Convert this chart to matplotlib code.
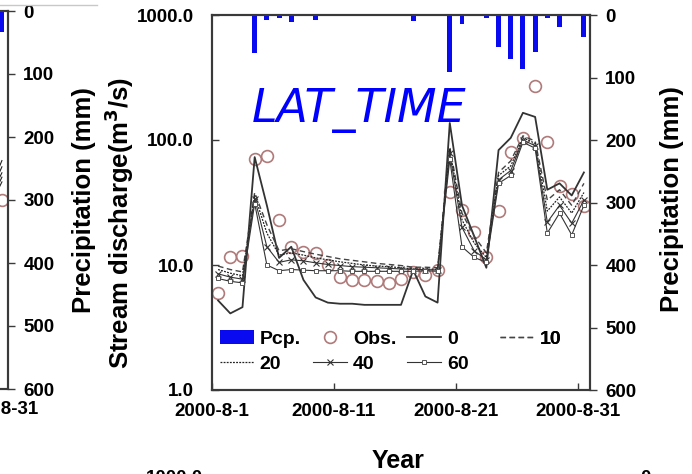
import matplotlib
matplotlib.use('Agg')
import matplotlib.pyplot as plt
import matplotlib.dates as mdates
from matplotlib.lines import Line2D
from matplotlib.ticker import FixedLocator, FuncFormatter
import pandas as pd

plt.rcParams['font.family'] = ['Liberation Sans', 'DejaVu Sans']
plt.rcParams['font.weight'] = 'bold'

# daily values, August 2000
days = (pd.date_range('2000-08-01', '2000-08-31', freq='D') + pd.Timedelta(hours=12)).to_pydatetime()
pcp = [0, 0, 1, 61, 8, 5, 11, 1, 8, 0, 0, 0, 0, 0, 0, 1, 10, 0, 0, 91, 14, 0, 5, 51, 70, 86, 59, 5, 19, 0, 35]
obs = [6.0, 11.6, 11.8, 70.5, 74.5, 22.9, 13.9, 12.7, 12.5, 10.0, 8.0, 7.6, 7.6, 7.4, 7.2, 7.7,
       8.8, 8.3, 9.1, 38.4, 27.5, 18.4, 11.6, 27.0, 80, 104, 270, 96, 43, 37, 29.6]
sim_0 = [5.2, 4.1, 4.6, 73, 30, 11.4, 14, 7.6, 5.5, 5.0, 4.9, 4.9, 4.8, 4.8, 4.8, 4.8,
         9.1, 5.6, 5.0, 137, 30, 17, 9.5, 83, 104, 165, 153, 40, 45, 36, 55]
sim_10 = [9.8, 9.2, 8.8, 38, 21, 13, 13.5, 12.8, 12.2, 11.7, 11.2, 10.9, 10.6, 10.3, 10.1, 9.9,
          9.6, 9.6, 9.5, 88, 26, 17, 12.5, 55, 68, 108, 98, 33, 40, 30, 45]
sim_20 = [9.2, 8.6, 8.2, 36, 18, 12, 12.5, 12.0, 11.4, 11.0, 10.6, 10.3, 10.0, 9.8, 9.7, 9.5,
          9.3, 9.3, 9.2, 84, 23, 15, 11.5, 52, 62, 104, 94, 27, 35, 26, 38]
sim_40 = [8.5, 8.0, 7.7, 34, 14, 10.5, 11, 10.8, 10.4, 10.1, 9.9, 9.7, 9.6, 9.5, 9.4, 9.3,
          9.2, 9.2, 9.1, 78, 20, 13, 11, 48, 57, 100, 90, 22, 30, 21.6, 33]
sim_60 = [7.8, 7.4, 7.2, 31, 10, 9, 9.2, 9.1, 9.0, 9.0, 9.0, 8.9, 8.9, 8.9, 8.9, 8.9,
          8.9, 9.0, 8.9, 70, 14, 11.5, 10.5, 45, 52, 96, 86, 18, 26, 17.4, 30]

# neighbouring panel (only its last days are visible)
left_days = days[-2:]
left_pcp = [0, 33]
left_obs = [20, 31.6]
left_sims = [[38, 65], [35, 58], [33, 52], [30, 48], [28, 44]]

tick_days = [pd.Timestamp(f'2000-08-{d:02d}').to_pydatetime() for d in (1, 11, 21, 31)]
x_lim = (pd.Timestamp('2000-08-01').to_pydatetime(), pd.Timestamp('2000-09-01').to_pydatetime())
q_ticks = [1, 10, 100, 1000]
p_ticks = [0, 100, 200, 300, 400, 500, 600]

spine_c = '#3a3a3a'
obs_c = '#b07a7a'
bar_c = '#0a0af0'
W, H = 692, 474
TICK_FS = 13.5
LABEL_FS = 18.5


def date_fmt(v, pos=None):
    d = mdates.num2date(v)
    return f'{d.year}-{d.month}-{d.day}'


def style_axes(ax, ax2):
    ax.set_yscale('log')
    ax.set_ylim(1, 1000)
    ax.set_xlim(*x_lim)
    ax.yaxis.set_major_locator(FixedLocator(q_ticks))
    ax.yaxis.set_minor_locator(FixedLocator([]))
    ax.yaxis.set_major_formatter(FuncFormatter(lambda v, p: f'{v:.1f}'))
    ax.xaxis.set_major_locator(FixedLocator(mdates.date2num(tick_days)))
    ax.xaxis.set_major_formatter(FuncFormatter(date_fmt))
    ax.tick_params(axis='both', direction='in', length=5, width=1, colors=spine_c,
                   labelsize=TICK_FS, labelcolor='black')
    ax.tick_params(axis='x', pad=9)
    ax.tick_params(axis='y', pad=13)
    ax2.set_ylim(600, 0)
    ax2.set_yticks(p_ticks)
    ax2.tick_params(axis='y', direction='out', length=5, width=1, colors=spine_c,
                    labelsize=TICK_FS, labelcolor='black', pad=6)
    for a in (ax, ax2):
        for s in a.spines.values():
            s.set_color(spine_c)
            s.set_linewidth(1.5)
    for lab in ax.get_xticklabels() + ax.get_yticklabels() + ax2.get_yticklabels():
        lab.set_fontweight('bold')


fig = plt.figure(figsize=(W / 100, H / 100), dpi=100)

# partial panel on the left edge
px_day = (590 - 212.5) / 31.0
l_right = 8
l_left = l_right - 31 * px_day
ax_l = fig.add_axes([l_left / W, 1 - 389 / H, 31 * px_day / W, 378 / H])
ax_l2 = ax_l.twinx()
ax_l2.bar(left_days, left_pcp, width=0.4, color=bar_c, zorder=2)
for vals in left_sims:
    ax_l.plot(left_days, vals, color='#222222', lw=0.8)
ax_l.plot(left_days, left_obs, ls='none', marker='o', ms=8.5, mfc='none', mec=obs_c, mew=1.2)
style_axes(ax_l, ax_l2)
ax_l.set_yticklabels([])
ax_l2.set_ylabel('Precipitation (mm)', fontsize=LABEL_FS, fontweight='bold')
ax_l2.yaxis.set_label_coords((72 - l_left) / (31 * px_day), 0.5)

# main panel
ax = fig.add_axes([212 / W, 1 - 390 / H, 378 / W, 375 / H])
ax2 = ax.twinx()
ax.set_zorder(ax2.get_zorder() + 1)
ax.patch.set_visible(False)

bars = ax2.bar(days, pcp, width=0.4, color=bar_c, label='Pcp.')
l_obs, = ax.plot(days, obs, ls='none', marker='o', ms=8.5, mfc='none', mec=obs_c, mew=1.2, label='Obs.')
l0, = ax.plot(days, sim_0, color='#333333', lw=1.3, label='0')
l10, = ax.plot(days, sim_10, color='#444444', lw=1.0, ls=(0, (4, 2.5)), label='10')
l20, = ax.plot(days, sim_20, color='#222222', lw=0.9, ls=(0, (1.5, 1)), label='20')
l40, = ax.plot(days, sim_40, color='#333333', lw=0.8, marker='x', ms=5, mew=0.8, label='40')
l60, = ax.plot(days, sim_60, color='#333333', lw=0.8, marker='s', ms=3.5, mfc='white',
               mec='#555555', mew=0.7, label='60')

style_axes(ax, ax2)
ax.set_ylabel('Stream discharge(m$^3$/s)', fontsize=LABEL_FS, fontweight='bold')
ax.yaxis.set_label_coords((136 - 212) / 378, (390 - 223) / 375)
ax2.set_ylabel('Precipitation (mm)', fontsize=LABEL_FS, fontweight='bold')
ax2.yaxis.set_label_coords((660 - 212) / 378, (390 - 199) / 375)
ax.set_xlabel('Year', fontsize=18, fontweight='bold')
ax.xaxis.set_label_coords((398 - 212) / 378, (390 - 449) / 375)

ax.text(0.39, 0.745, 'LAT_TIME', transform=ax.transAxes, color='#0000ff', fontsize=33,
        family='DejaVu Sans', style='italic', fontweight='normal', ha='center', va='center')

# legend laid out in fixed-width columns, row by row
columns = [(bars, 'Pcp.', l20, '20'), (l_obs, 'Obs.', l40, '40'),
           (l0, '0', l60, '60'), (l10, '10', None, None)]
col_x = [220, 313, 407, 500]
for (h1, t1, h2, t2), cx in zip(columns, col_x):
    hs = [h for h in (h1, h2) if h is not None]
    ts = [t for t in (t1, t2) if t is not None]
    leg = ax.legend(hs, ts, loc='upper left', bbox_to_anchor=((cx - 212) / 378, (390 - 330) / 375),
                    frameon=False, fontsize=14, handlelength=1.75, handletextpad=0.3,
                    labelspacing=0.4, borderaxespad=0, borderpad=0)
    for t in leg.get_texts():
        t.set_fontweight('bold')
    ax.add_artist(leg)

# edges of neighbouring figures that show through the crop
fig.add_artist(Line2D([0, 97 / W], [1 - 5 / H, 1 - 5 / H], color='#c8c8c8', lw=1))
fig.text(146 / W, 1 - 470 / H, '1000.0', fontsize=TICK_FS, fontweight='bold', va='top')
fig.text(640 / W, 1 - 470 / H, '0', fontsize=TICK_FS, fontweight='bold', va='top')

fig.savefig('out.png', dpi=100)
